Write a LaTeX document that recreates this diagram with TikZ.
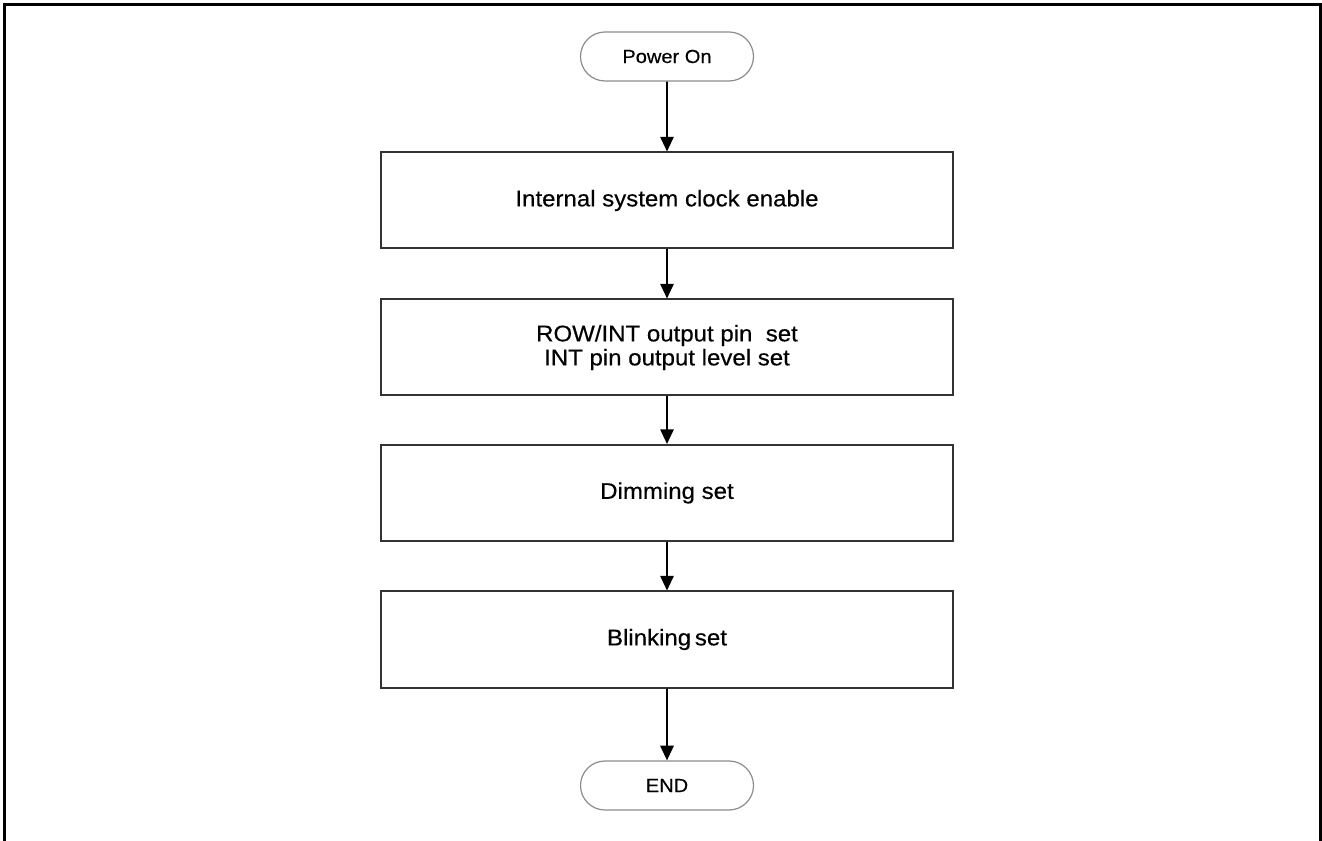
\documentclass[tikz,border=0pt]{standalone}
\usepackage{fontspec}
\setmainfont[FakeStretch=1.06,FakeBold=0.4]{Liberation Sans}
\usetikzlibrary{arrows.meta,shapes.misc}
\begin{document}
\begin{tikzpicture}[x=0.75pt,y=-0.75pt,
  procbox/.style={draw=black!80,line width=1.5pt,minimum width=572*0.75pt,minimum height=96*0.75pt,inner sep=0pt,align=center,font=\fontsize{17}{18}\selectfont},
  termbox/.style={draw=black!45,line width=0.9pt,rounded rectangle,minimum width=173*0.75pt,minimum height=49*0.75pt,inner sep=0pt,font=\fontsize{14.2}{16}\selectfont},
  flowarrow/.style={line width=1.4pt,-{Triangle[length=11pt,width=10pt]}}]
\useasboundingbox (0,0) rectangle (1322,841);
\draw[line width=1.6pt] (4.5,841) -- (4.5,4.5) -- (1320.5,4.5) -- (1320.5,841);
\node[termbox] (pon) at (667,56.5) {Power On};
\node[procbox] (b1) at (667,200.5) {Internal system clock enable};
\node[procbox] (b2) at (667,347.5) {ROW/INT output pin\ \ set\\INT pin output level set};
\node[procbox] (b3) at (667,493) {Dimming set};
\node[procbox] (b4) at (667,639.5) {Blinking\,set};
\node[termbox] (end) at (667,785.5) {END};
\draw[flowarrow] (pon) -- (b1);
\draw[flowarrow] (b1) -- (b2);
\draw[flowarrow] (b2) -- (b3);
\draw[flowarrow] (b3) -- (b4);
\draw[flowarrow] (b4) -- (end);
\end{tikzpicture}
\end{document}
